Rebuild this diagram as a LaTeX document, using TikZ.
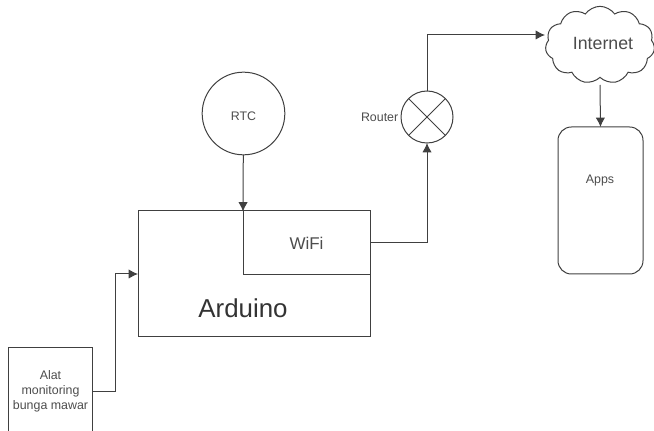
\documentclass[tikz,border=0pt]{standalone}
\usepackage{fontspec}
\setmainfont{Liberation Sans}
\usetikzlibrary{arrows.meta,shapes.symbols}
\definecolor{linegray}{gray}{.25}
\definecolor{textgray}{gray}{.3}
\tikzset{
  wire/.style={draw=linegray,line width=.75pt},
  arrow/.style={wire,-{Latex[length=7pt,width=7pt]}},
  block/.style={draw=linegray,line width=.75pt,rectangle,inner sep=0pt,outer sep=0pt,text=textgray},
  small/.style={font=\fontsize{9.3pt}{11.2pt}\selectfont,text=textgray,align=center,inner sep=0pt}
}
\begin{document}
\begin{tikzpicture}[x=.75pt,y=-.75pt]
\useasboundingbox (0,0) rectangle (654,431);
\clip (0,0) rectangle (654,431);
\node[block,minimum width=174pt,minimum height=94.5pt] (arduino) at (254,274) {};
\node[font=\fontsize{19.4pt}{23pt}\selectfont,text=black!80,inner sep=0pt] (arduinotext) at (243,308) {Arduino};
\node[block,minimum width=95.25pt,minimum height=48pt,font=\fontsize{12.75pt}{15pt}\selectfont] (wifi) at (306.5,243) {WiFi};
\node[block,circle,minimum size=62pt,font=\fontsize{9.3pt}{11pt}\selectfont] (rtc) at (243.5,113.5) {};
\node[small] (rtctext) at (243.5,116) {RTC};
\node[block,circle,minimum size=39pt] (router) at (427,117) {};
\node[small,anchor=east] (routertext) at (398.5,117) {Router};
\node[block,cloud,cloud puffs=11,cloud puff arc=110,aspect=1.45,minimum width=82pt,minimum height=58pt] (internet) at (600,45) {};
\node[small,font=\fontsize{13.3pt}{16pt}\selectfont] (internettext) at (603,43) {Internet};
\node[block,rounded corners=10pt,minimum width=63.75pt,minimum height=110.25pt] (apps) at (600.5,200.5) {};
\node[small] (appstext) at (600,181) {Apps};
\node[block,minimum width=63pt,minimum height=65pt,font=\fontsize{9.3pt}{11.2pt}\selectfont,align=center] (alat) at (50.5,391) {Alat\\monitoring\\bunga mawar};
\coordinate (arduinotop) at (243,211.5);
\coordinate (cloudin) at (545,35);
\coordinate (cloudout) at (600,85);
\coordinate (wifieast) at (371,243);
\draw[arrow] (rtc) -- (arduinotop);
\draw[arrow] (alat.east) -- ++(23,0) |- (arduino.west);
\draw[arrow] (wifieast) -| (router.south);
\draw[arrow] (router.north) |- (cloudin);
\draw[arrow] (cloudout) -- (apps.north);
\draw[wire] (router.45) -- (router.225);
\draw[wire] (router.135) -- (router.315);
\end{tikzpicture}
\end{document}
